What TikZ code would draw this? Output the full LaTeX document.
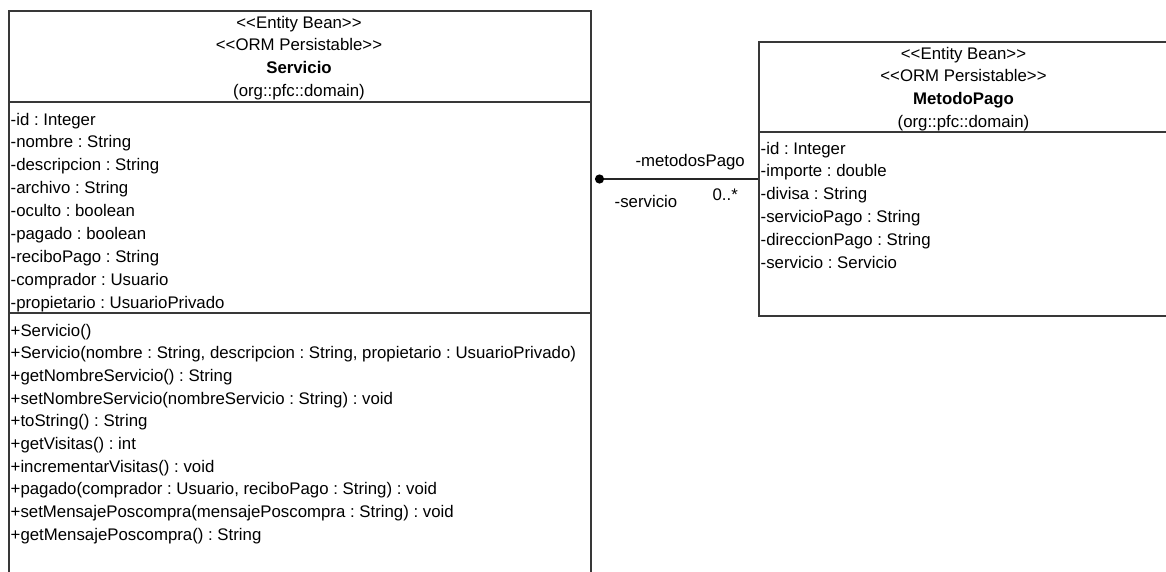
\documentclass[tikz,border=0pt]{standalone}
\usepackage{fontspec}
\setmainfont{Liberation Sans}
% keep "<<" and ">>" as two separate glyphs
\newcommand\stlt{<\kern0pt<}
\newcommand\stgt{>\kern0pt>}
\begin{document}
\frenchspacing
\begin{tikzpicture}[x=1pt,y=-1pt,
  umlbox/.style={draw=black!78, line width=1.5pt, inner sep=0pt, anchor=north west},
  sepline/.style={draw=black!78, line width=1.5pt},
  txt/.style={inner sep=0pt, text height=0.72em, text depth=0.22em, yshift=-3.5pt,
              font=\fontsize{16.8}{20}\selectfont\frenchspacing},
  member/.style={txt, anchor=west},
  head/.style={txt, anchor=center},
  assoc/.style={draw=black!85, line width=1.1pt},
  endlabel/.style={txt}
]
\useasboundingbox (0,0) rectangle (1166,571);
\clip (0,0) rectangle (1166,571);

% ---------- class Servicio ----------
\node[umlbox, minimum width=582pt, minimum height=640pt] (servicio) at (8,10) {};
\draw[sepline] (servicio.west |- 0,102) -- (servicio.east |- 0,102);
\draw[sepline] (servicio.west |- 0,313) -- (servicio.east |- 0,313);

\foreach \t [count=\i] in {{\stlt Entity Bean\stgt},{\stlt ORM Persistable\stgt},{\textbf{Servicio}},{(org::pfc::domain)}}
  \node[head] (sh\i) at (299,{22+(\i-1)*22.8}) {\t};

\foreach \t [count=\i] in {
  {-id : Integer},
  {-nombre : String},
  {-descripcion : String},
  {-archivo : String},
  {-oculto : boolean},
  {-pagado : boolean},
  {-reciboPago : String},
  {-comprador : Usuario},
  {-propietario : UsuarioPrivado}}
  \node[member] (sa\i) at (10.5,{119+(\i-1)*22.9}) {\t};

\foreach \t [count=\i] in {
  {+Servicio()},
  {+Servicio(nombre : String, descripcion : String, propietario : UsuarioPrivado)},
  {+getNombreServicio() : String},
  {+setNombreServicio(nombreServicio : String) : void},
  {+toString() : String},
  {+getVisitas() : int},
  {+incrementarVisitas() : void},
  {+pagado(comprador : Usuario, reciboPago : String) : void},
  {+setMensajePoscompra(mensajePoscompra : String) : void},
  {+getMensajePoscompra() : String}}
  \node[member] (sm\i) at (10.5,{330+(\i-1)*22.7}) {\t};

% ---------- class MetodoPago ----------
\node[umlbox, minimum width=411pt, minimum height=274pt] (metodo) at (758,41) {};
\draw[sepline] (metodo.west |- 0,132) -- (metodo.east |- 0,132);

\foreach \t [count=\i] in {{\stlt Entity Bean\stgt},{\stlt ORM Persistable\stgt},{\textbf{MetodoPago}},{(org::pfc::domain)}}
  \node[head] (mh\i) at (963.5,{53+(\i-1)*22.8}) {\t};

\foreach \t [count=\i] in {
  {-id : Integer},
  {-importe : double},
  {-divisa : String},
  {-servicioPago : String},
  {-direccionPago : String},
  {-servicio : Servicio}}
  \node[member] (ma\i) at (760.5,{148+(\i-1)*22.9}) {\t};

% ---------- association ----------
\coordinate (aL) at ([xshift=8pt]servicio.east |- 0,179);
\coordinate (aR) at (metodo.west |- aL);
\draw[assoc] (aL) -- (aR);
\fill[black] (aL) circle (4.6pt);

\node[endlabel, anchor=east] (roleR) at ([xshift=-13pt,yshift=19pt]aR) {-metodosPago};
\node[endlabel, anchor=east] (multR) at ([xshift=-20pt,yshift=-15pt]aR) {0..*};
\node[endlabel, anchor=west] (roleL) at ([xshift=15pt,yshift=-22pt]aL) {-servicio};
\end{tikzpicture}
\end{document}
